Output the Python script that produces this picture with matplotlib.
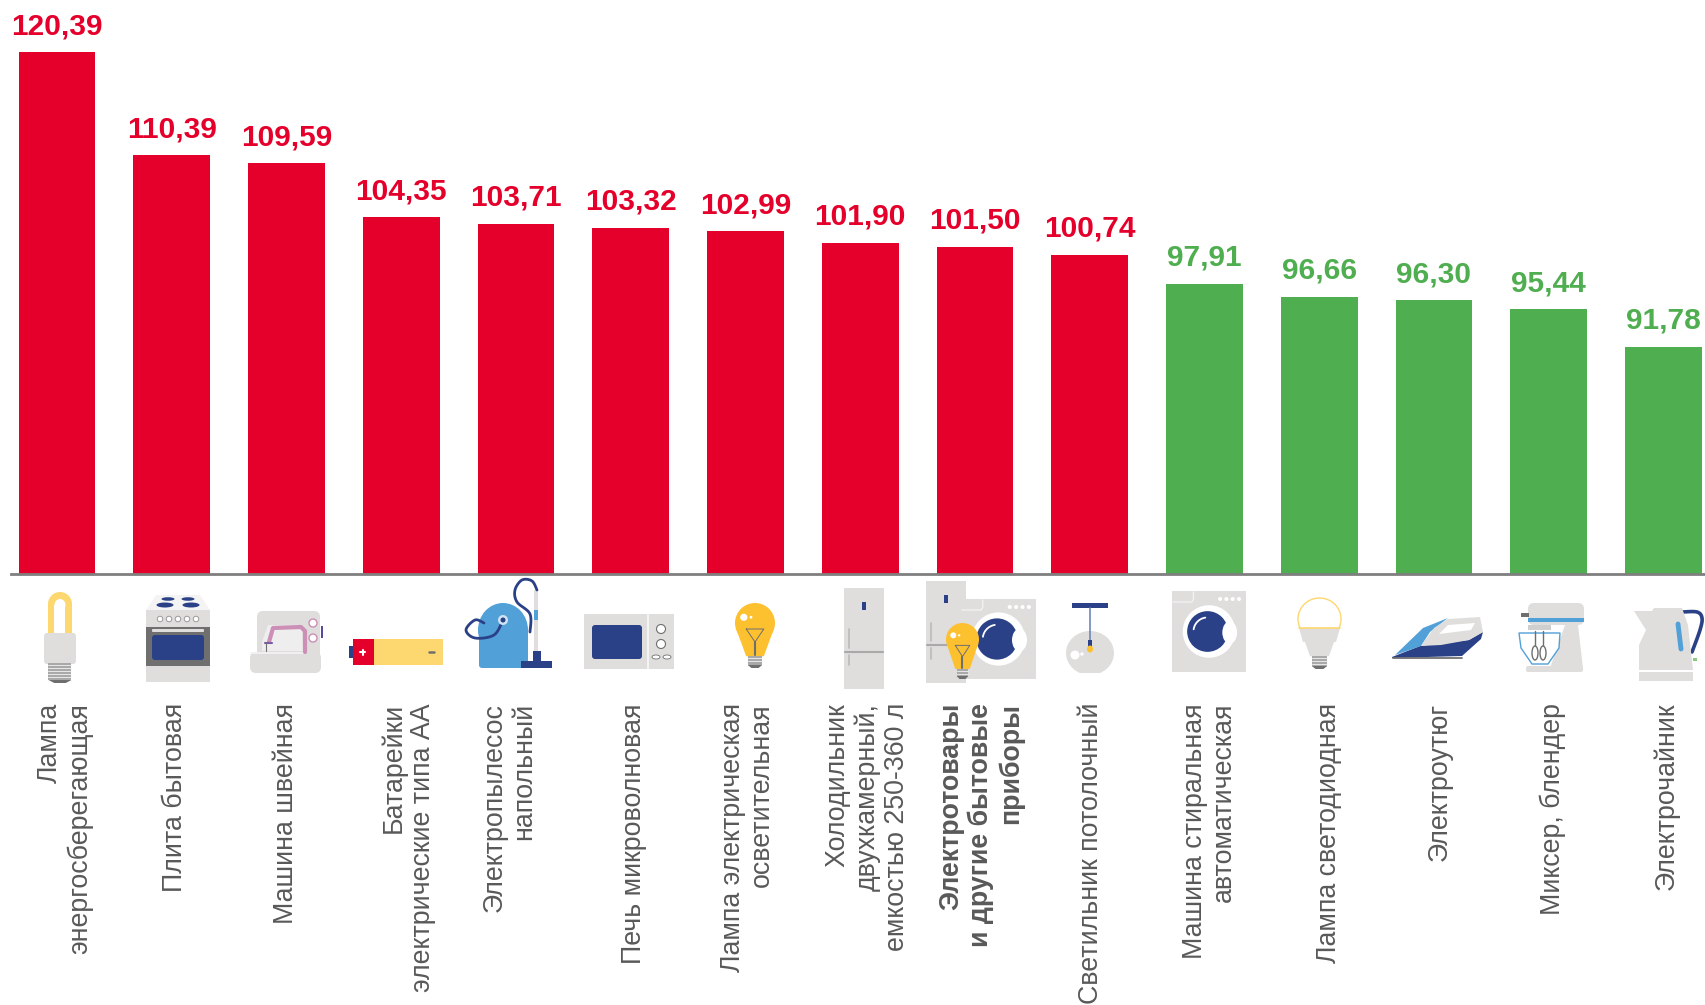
# Индексы цен: электротовары и бытовые приборы
import matplotlib

matplotlib.use("Agg")
import matplotlib.pyplot as plt
import numpy as np
from matplotlib.patches import Ellipse, FancyBboxPatch, Polygon, Rectangle

plt.rcParams["font.family"] = ["Liberation Sans", "DejaVu Sans"]

# данные
categories = [
    "Лампа\nэнергосберегающая",
    "Плита бытовая",
    "Машина швейная",
    "Батарейки\nэлектрические типа АА",
    "Электропылесос\nнапольный",
    "Печь микроволновая",
    "Лампа электрическая\nосветительная",
    "Холодильник\nдвухкамерный,\nемкостью 250-360 л",
    "Электротовары\nи другие бытовые\nприборы",
    "Светильник потолочный",
    "Машина стиральная\nавтоматическая",
    "Лампа светодиодная",
    "Электроутюг",
    "Миксер, блендер",
    "Электрочайник",
]
values = [120.39, 110.39, 109.59, 104.35, 103.71, 103.32, 102.99, 101.90,
          101.50, 100.74, 97.91, 96.66, 96.30, 95.44, 91.78]
bold_category = "Электротовары\nи другие бытовые\nприборы"

RED = "#e4002b"
GREEN = "#4fae4f"
TEXT = "#595959"
GRAY = "#dfdedd"
NAVY = "#2a4087"
YELLOW = "#fdd870"
AMBER = "#fdc02f"
SKY = "#52a0d8"
DARK = "#6f6f6f"
PINK = "#cc8fb5"

W, H = 1706, 1005
fig = plt.figure(figsize=(W / 100, H / 100), dpi=100)

# столбцы: ось значений обрезана снизу примерно на 70
BASE_Y = 574
LEFT = 11
STEP = 114.75
SCALE = 10.31
ymin = 120.39 - (BASE_Y - 52) / SCALE
ax = fig.add_axes([LEFT / W, (H - BASE_Y) / H, (W - LEFT) / W, BASE_Y / H])
colors = [RED if v > 100 else GREEN for v in values]
x = np.arange(len(values))
ax.bar(x, values, width=0.67, color=colors, bottom=0)
ax.set_ylim(ymin, ymin + BASE_Y / SCALE)
ax.set_xlim((LEFT - 57) / STEP, (W - 57) / STEP)
for side in ["top", "left", "right"]:
    ax.spines[side].set_visible(False)
ax.spines["bottom"].set_color("#7f7f7f")
ax.spines["bottom"].set_linewidth(2.0)
ax.set_yticks([])
ax.set_xticks([])
ax.patch.set_alpha(0)

# подписи значений и категорий
label_dx = [8, 3, 0, 7, -7, 3, 2, 7, 6, 1, 5, 10, 6, 4, 3]
for i, v in enumerate(values):
    ax.annotate(f"{v:.2f}".replace(".", ","), xy=(i, v), xytext=(0, 18),
                textcoords="offset pixels", ha="center", va="baseline",
                fontsize=21.5, fontweight="bold", color=colors[i],
                annotation_clip=False)
    ax.annotate(categories[i], xy=(i, ymin), xytext=(label_dx[i], -129),
                textcoords="offset pixels", rotation=90, ha="center", va="top",
                multialignment="right", fontsize=19.3, color=TEXT,
                linespacing=1.18, annotation_clip=False,
                fontweight="bold" if categories[i] == bold_category else "normal")

# значки, координаты в пикселях картинки
ic = fig.add_axes([0, 0, 1, 1])
ic.set_xlim(0, W)
ic.set_ylim(H, 0)
ic.axis("off")
ic.patch.set_alpha(0)
z = [3]


def nz():
    z[0] += 1
    return z[0]


def rect(x0, y0, x1, y1, c):
    ic.add_patch(Rectangle((x0, y0), x1 - x0, y1 - y0, fc=c, ec="none", zorder=nz()))


def rrect(x0, y0, x1, y1, c, r=3):
    ic.add_patch(FancyBboxPatch((x0 + r, y0 + r), x1 - x0 - 2 * r, y1 - y0 - 2 * r,
                                boxstyle=f"round,pad={r}", fc=c, ec="none", zorder=nz()))


def ell(cx, cy, w, h, c, ec="none", lw=1):
    ic.add_patch(Ellipse((cx, cy), w, h, fc=c, ec=ec, lw=lw, zorder=nz()))


def poly(pts, c):
    ic.add_patch(Polygon(pts, closed=True, fc=c, ec="none", zorder=nz()))


def line(pts, c, lw=1.5):
    xs, ys = zip(*pts)
    ic.plot(xs, ys, color=c, lw=lw, solid_capstyle="round", solid_joinstyle="round", zorder=nz())


def hose(pts, c, lw=2):
    # сглаживание Катмулла-Рома, только для шлангов и ручек
    p = np.array([pts[0]] + list(pts) + [pts[-1]], dtype=float)
    out = []
    for k in range(1, len(p) - 2):
        for t in np.linspace(0, 1, 12):
            out.append(0.5 * (2 * p[k] + (p[k + 1] - p[k - 1]) * t
                              + (2 * p[k - 1] - 5 * p[k] + 4 * p[k + 1] - p[k + 2]) * t ** 2
                              + (3 * p[k] - p[k - 1] - 3 * p[k + 1] + p[k + 2]) * t ** 3))
    line(out, c, lw)


def screw(cx, y0, y1, w):
    rect(cx - w / 2, y0, cx + w / 2, y1 - 3, "#a9a9a9")
    for yy in np.arange(y0 + 2, y1 - 4, 3):
        line([(cx - w / 2, yy), (cx + w / 2, yy)], "#f2f2f2", 0.6)
    poly([(cx - w / 2, y1 - 3), (cx + w / 2, y1 - 3), (cx + w / 4, y1), (cx - w / 4, y1)], DARK)


def bulb(cx, top, w, h, c):
    # груша: шар и сужение к цоколю
    ell(cx, top + w / 2, w, w, c)
    neck = top + h * 0.82
    poly([(cx - w * 0.47, top + w * 0.65), (cx + w * 0.47, top + w * 0.65),
          (cx + w * 0.22, neck), (cx - w * 0.22, neck)], c)
    screw(cx, neck, top + h, w * 0.36)


def filament(cx, top, w, h):
    y0 = top + h * 0.4
    line([(cx - w * 0.22, y0), (cx + w * 0.22, y0), (cx, y0 + h * 0.2),
          (cx - w * 0.22, y0)], DARK, 0.7)
    line([(cx, y0 + h * 0.2), (cx, top + h * 0.8)], DARK, 1.5)
    ell(cx - w * 0.28, top + h * 0.22, w * 0.18, w * 0.18, "white")
    ell(cx - w * 0.1, top + h * 0.22, w * 0.07, w * 0.07, "white")


def washer(x0, y0, x1, y1):
    rect(x0, y0, x1, y1, GRAY)
    w = x1 - x0
    cx, cy = x0 + w * 0.5, y0 + (y1 - y0) * 0.5
    line([(x0 + 1, y0 + 11), (x0 + w * 0.27, y0 + 11), (x0 + w * 0.29, y0 + 8), (x0 + w * 0.29, y0 + 1)], "#f2f2f2", 1)
    for k in range(4):
        ell(x0 + w * (0.65 + 0.085 * k), y0 + 8, 4, 4, "white")
    ell(cx, cy, w * 0.71, w * 0.71, "white")
    ell(cx - 1.5, cy, w * 0.55, w * 0.55, NAVY)
    ell(cx + w * 0.28, cy + 1, w * 0.2, w * 0.3, "white")
    t = np.linspace(np.pi * 1.05, np.pi * 1.45, 12)
    r = w * 0.19
    line(list(zip(cx - 1.5 + r * np.cos(t), cy + r * np.sin(t))), "white", 1.3)


def fridge(x0, y0, x1, y1):
    rect(x0, y0, x1, y1, GRAY)
    h = y1 - y0
    w = x1 - x0
    ydiv = y0 + h * 0.63
    line([(x0 + 1, ydiv), (x1 - 1, ydiv)], "#a9a9a9", 1.5)
    line([(x0 + 5, y0 + h * 0.41), (x0 + 5, y0 + h * 0.59)], "#bdbdbd", 1.3)
    line([(x0 + 5, y0 + h * 0.66), (x0 + 5, y0 + h * 0.76)], "#bdbdbd", 1.3)
    rect(x0 + w * 0.46, y0 + h * 0.14, x0 + w * 0.56, y0 + h * 0.22, NAVY)


# лампа энергосберегающая
ell(60, 604, 24, 24, YELLOW)
rect(48, 604, 72, 634, YELLOW)
ell(60, 605, 11, 12, "white")
rect(54.5, 605, 65.5, 634, "white")
rrect(44, 633, 76, 664, GRAY)
screw(60, 663, 683, 23)

# плита
poly([(156, 595), (200, 595), (210, 610), (146, 610)], "#f4f4f4")
ell(168, 599, 13, 3.5, NAVY)
ell(188, 599, 13, 3.5, NAVY)
ell(165, 605, 17, 5, NAVY)
ell(191, 605, 17, 5, NAVY)
rect(146, 610, 210, 627, GRAY)
for kx in [160, 169, 178, 187, 196]:
    ell(kx, 619, 5.5, 5.5, "white", ec="#9a9a9a", lw=0.7)
rect(146, 627, 210, 666, DARK)
rrect(152, 629, 204, 632, GRAY, 1)
rrect(152, 635, 204, 660, NAVY)
rect(146, 666, 210, 682, GRAY)

# швейная машина
rrect(257, 611, 320, 665, GRAY, 6)
rrect(250, 652, 321, 673, GRAY, 6)
line([(251, 653), (303, 653)], "#f4f4f4", 1.2)
poly([(268, 625), (302, 625), (303, 651), (262, 651), (262, 642)], "#efeeee")
line([(269, 642), (273, 628), (301, 627), (305, 631), (305, 652)], PINK, 3)
line([(265, 643), (272, 643)], "#7b5aa6", 1.5)
line([(266, 643), (266, 651)], DARK, 0.8)
rect(321, 626, 323, 638, "#5b4a9a")
ell(313, 623, 8, 8, "white", ec=PINK, lw=1)
ell(313, 638, 8, 8, "white", ec=PINK, lw=1)

# батарейка
rect(349, 646, 354, 658, NAVY)
rect(353, 639, 374, 665, RED)
rect(374, 639, 443, 665, YELLOW)
line([(360.5, 652), (365.5, 652)], "white", 1.5)
line([(363, 649.5), (363, 654.5)], "white", 1.5)
line([(429, 652), (434, 652)], DARK, 1.8)

# пылесос
ell(503, 630, 50, 54, SKY)
rrect(479, 628, 528, 668, SKY)
rect(534, 590, 538, 655, GRAY)
rect(534, 610, 538, 620, SKY)
rect(533, 651, 541, 662, NAVY)
rect(521, 661, 552, 668, NAVY)
hose([(503, 620), (494, 635), (475, 638), (466, 630), (475, 620), (484, 623)], NAVY)
hose([(530, 632), (530, 614), (517, 602), (515, 590), (522, 580), (532, 581), (537, 590)], NAVY)
ell(503, 620, 10, 10, "#cfe3f3")
ell(503, 620, 5, 5, NAVY)

# микроволновка
rect(584, 614, 674, 669, GRAY)
rrect(592, 625, 642, 659, NAVY)
line([(648, 615), (648, 668)], "#f4f4f4", 1.5)
ell(661, 629, 9, 9, "white", ec=DARK, lw=0.8)
ell(661, 644, 9, 9, "white", ec=DARK, lw=0.8)
ell(656, 657, 8, 4, "white", ec=DARK, lw=0.6)
ell(667, 657, 8, 4, "white", ec=DARK, lw=0.6)

# лампа накаливания
bulb(755, 603, 40, 65, AMBER)
filament(755, 603, 40, 65)

# холодильник
fridge(844, 588, 884, 689)

# группа: холодильник, стиральная машина, лампа
fridge(926, 581, 966, 683)
washer(961, 599, 1036, 679)
bulb(962.5, 623, 33, 56, AMBER)
filament(962.5, 623, 33, 56)

# светильник
rect(1072, 603, 1108, 608, NAVY)
ell(1090, 653, 48, 44, GRAY)
rect(1060, 673, 1120, 680, "white")
line([(1090, 608), (1090, 642)], "#6f86b8", 1.2)
rect(1088, 640, 1092, 647, NAVY)
ell(1090, 649, 6, 7, AMBER)
ell(1075, 655, 9, 9, "white")
ell(1082, 654, 3.5, 3.5, "white")

# стиральная машина
washer(1172, 591, 1246, 672)

# лампа светодиодная
bulb(1319.5, 598, 43, 71, GRAY)
ell(1319.5, 619, 43, 42, "white", ec=YELLOW, lw=1)
rect(1296, 628, 1343, 642, "white")
poly([(1299, 628), (1340, 628), (1336, 642), (1303, 642)], GRAY)
line([(1299, 628), (1340, 628)], YELLOW, 1.2)

# утюг
poly([(1392, 657), (1420, 646), (1469, 640), (1483, 632), (1481, 639), (1462, 656), (1392, 658)], NAVY)
line([(1393, 657.5), (1462, 657.5)], DARK, 1.3)
poly([(1395, 655), (1423, 628), (1448, 618), (1430, 632), (1421, 646)], SKY)
poly([(1421, 646), (1434, 628), (1448, 619), (1480, 617), (1483, 632), (1469, 640), (1441, 645)], GRAY)
poly([(1439, 634), (1448, 625), (1475, 623), (1471, 630)], "white")

# миксер
rrect(1528, 603, 1584, 625, GRAY, 6)
rect(1521, 613, 1529, 617, DARK)
rect(1528, 618, 1584, 622, SKY)
poly([(1565, 625), (1578, 625), (1583, 668), (1550, 668)], GRAY)
rrect(1526, 666, 1583, 672, GRAY, 2)
rect(1528, 625, 1551, 630, "#cfcfcf")
ic.add_patch(Polygon([(1519, 633), (1560, 633), (1559, 648), (1548, 664), (1532, 664), (1521, 648)],
                     closed=True, fc="white", ec=SKY, lw=1, zorder=nz()))
line([(1535, 631), (1535, 648)], DARK, 1)
line([(1543, 631), (1543, 648)], DARK, 1)
ell(1535, 653, 6, 14, "white", ec=DARK, lw=1)
ell(1543, 653, 6, 14, "white", ec=DARK, lw=1)

# чайник
hose([(1682, 612), (1697, 612), (1702, 618), (1700, 630), (1692, 652)], NAVY, 2.6)
poly([(1634, 611), (1652, 611), (1654, 608), (1682, 608), (1688, 625), (1693, 670),
      (1639, 670), (1639, 645), (1646, 630)], GRAY)
rect(1639, 672, 1693, 681, GRAY)
line([(1678, 624), (1681, 649)], SKY, 3.5)
rect(1693, 658, 1697, 661, "#8ccb7e")

fig.savefig("out.png", dpi=100)
